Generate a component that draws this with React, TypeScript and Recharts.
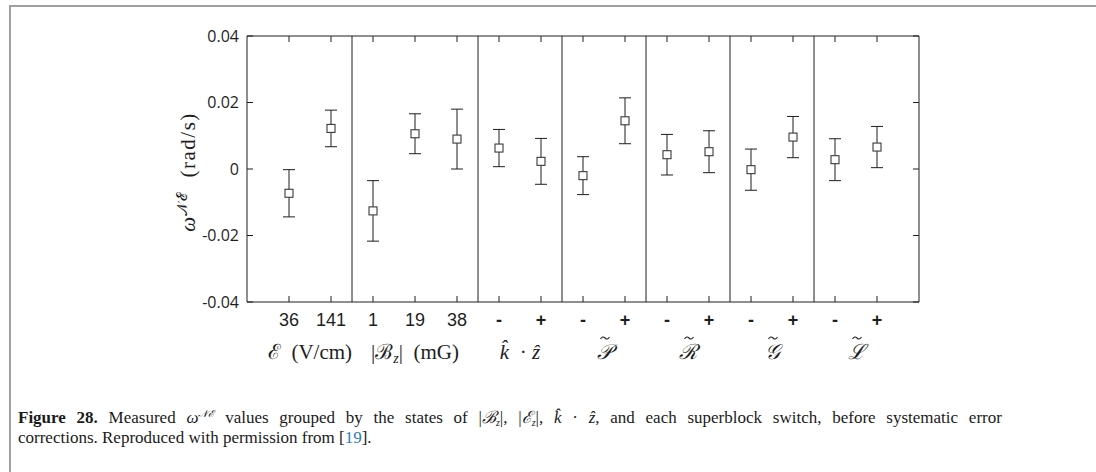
import React from "react";
import { ScatterChart, Scatter, XAxis, YAxis, ErrorBar, ReferenceLine } from "recharts";

// one entry per measured state, left to right
const categoryLabels = ["36", "141", "1", "19", "38", "-", "+", "-", "+", "-", "+", "-", "+", "-", "+"];
const omegaValues = [
  -0.0073, 0.0122, -0.0126, 0.0106, 0.009, 0.0063, 0.0023, -0.002, 0.0145, 0.0043, 0.0052, -0.0002, 0.0096,
  0.0028, 0.0066,
];
const omegaErrors = [
  0.0071, 0.0055, 0.0091, 0.006, 0.009, 0.0056, 0.0069, 0.0057, 0.0069, 0.0061, 0.0063, 0.0062, 0.0062, 0.0063,
  0.0062,
];

// switch groups: "*x*" italic, "_z" italic subscript, "~X" letter with tilde
const groupLabels = ["ℰ (V/cm)", "|ℬ_z| (mG)", "*k̂* · *ẑ*", "~𝒫", "~ℛ", "~𝒢", "~ℒ"];
const groupSizes = [2, 3, 2, 2, 2, 2, 2];

const yTicks = [-0.04, -0.02, 0, 0.02, 0.04];

const INK = "#1e1e1e";
const SANS = "'Liberation Sans', Arial, sans-serif";
const TICK_SANS = "'Open Sans', 'Noto Sans', sans-serif";
const SERIF = "'Liberation Serif', 'DejaVu Serif', serif";
const TICK_LEN = 6;

const positions = categoryLabels.map((_, i) => i + 1);
const data = positions.map((x, i) => ({ x, y: omegaValues[i], err: omegaErrors[i] }));

const groupCenters: number[] = [];
const separators: number[] = [];
let start = 1;
groupSizes.forEach((n, i) => {
  groupCenters.push(start + (n - 1) / 2);
  if (i < groupSizes.length - 1) separators.push(start + n - 0.5);
  start += n;
});

const xDomain = [0, categoryLabels.length + 1];
const yDomain = [-0.04, 0.04];

// ticks point into the plot, labels stay outside
function CategoryTick(props: any) {
  const { x, y, index } = props;
  const label = categoryLabels[index];
  const sign = label === "-" || label === "+";
  return (
    <g>
      <line x1={x} x2={x} y1={y} y2={y - TICK_LEN} stroke={INK} />
      <text x={x} y={y + 24} textAnchor="middle" fontFamily={SANS} fontSize={18} fontWeight={sign ? 700 : 400} fill={INK}>
        {label}
      </text>
    </g>
  );
}

function TopTick(props: any) {
  const { x, y } = props;
  return <line x1={x} x2={x} y1={y} y2={y + TICK_LEN} stroke={INK} />;
}

function LeftTick(props: any) {
  const { x, y, payload } = props;
  const v = payload.value as number;
  return (
    <g>
      <line x1={x + 8} x2={x + 8 + TICK_LEN} y1={y} y2={y} stroke={INK} />
      <text x={x} y={y} dy="0.36em" textAnchor="end" fontFamily={TICK_SANS} fontSize={16} fill={INK}>
        {v === 0 ? "0" : v.toFixed(2)}
      </text>
    </g>
  );
}

function RightTick(props: any) {
  const { x, y } = props;
  return <line x1={x} x2={x - TICK_LEN} y1={y} y2={y} stroke={INK} />;
}

function GroupTick(props: any) {
  const { x, y, index } = props;
  const label = groupLabels[index];
  const base = y + 27;
  if (label.startsWith("~")) {
    const tx = x + 1;
    const ty = base - 21;
    return (
      <g>
        <path
          d={`M ${tx - 4.5} ${ty + 1} c 1.5 -2.5 3 -2.5 4.5 -1 s 3 1.5 4.5 -1`}
          fill="none"
          stroke={INK}
          strokeWidth={1.1}
        />
        <text x={x} y={base} textAnchor="middle" fontFamily={SERIF} fontStyle="italic" fontSize={21} fill={INK}>
          {label.slice(1)}
        </text>
      </g>
    );
  }
  const parts = label.split(/(\*[^*]+\*|_\w)/).filter((p) => p !== "");
  let shifted = false;
  return (
    <text x={x} y={base} textAnchor="middle" fontFamily={SERIF} fontSize={21} fill={INK} xmlSpace="preserve">
      {parts.map((p, i) => {
        if (p.startsWith("_")) {
          shifted = true;
          return (
            <tspan key={i} dy={4} fontSize={14} fontStyle="italic">
              {p.slice(1)}
            </tspan>
          );
        }
        const dy = shifted ? -4 : 0;
        shifted = false;
        if (p.startsWith("*")) {
          return (
            <tspan key={i} dy={dy} fontStyle="italic">
              {p.slice(1, -1)}
            </tspan>
          );
        }
        return (
          <tspan key={i} dy={dy}>
            {p.replace(" ", "  ")}
          </tspan>
        );
      })}
    </text>
  );
}

function YLabel(props: any) {
  const { viewBox } = props;
  const cx = viewBox.x + 8;
  const cy = viewBox.y + viewBox.height / 2 + 3;
  return (
    <text
      x={cx}
      y={cy}
      transform={`rotate(-90 ${cx} ${cy})`}
      textAnchor="middle"
      fontFamily={SERIF}
      fontSize={21}
      letterSpacing={1.5}
      fill={INK}
    >
      <tspan fontStyle="italic">ω</tspan>
      <tspan dy={-8} fontSize={14}>
        𝒩ℰ
      </tspan>
      <tspan dy={8} dx={14}>
        (rad/s)
      </tspan>
    </text>
  );
}

function Square(props: any) {
  const { cx, cy } = props;
  return <rect x={cx - 4} y={cy - 4} width={8} height={8} fill="#fff" stroke="#3a3a3a" strokeWidth={1.1} />;
}

function NoShape() {
  return <g />;
}

function Caption() {
  return (
    <svg width={1096} height={120} style={{ position: "absolute", left: 0, top: 390 }}>
      <text x={18} y={33} fontFamily={SERIF} fontSize={17} fill="#1a1a1a" wordSpacing={6.5}>
        <tspan fontWeight={700}>Figure 28.</tspan>
        <tspan> Measured </tspan>
        <tspan fontStyle="italic">ω</tspan>
        <tspan dy={-6} fontSize={10} fontStyle="italic">
          𝒩ℰ
        </tspan>
        <tspan dy={6}> values grouped by the states of |</tspan>
        <tspan fontStyle="italic">ℬ</tspan>
        <tspan dy={3} fontSize={10} fontStyle="italic">
          z
        </tspan>
        <tspan dy={-3}>|, |</tspan>
        <tspan fontStyle="italic">ℰ</tspan>
        <tspan dy={3} fontSize={10} fontStyle="italic">
          z
        </tspan>
        <tspan dy={-3}>|, </tspan>
        <tspan fontStyle="italic">k̂</tspan>
        <tspan> · </tspan>
        <tspan fontStyle="italic">ẑ</tspan>
        <tspan>, and each superblock switch, before systematic error</tspan>
      </text>
      <text x={18} y={53} fontFamily={SERIF} fontSize={17} fill="#1a1a1a">
        <tspan>corrections. Reproduced with permission from [</tspan>
        <tspan fill="#2b7bbd">19</tspan>
        <tspan>].</tspan>
      </text>
    </svg>
  );
}

export default function App() {
  return (
    <div style={{ position: "absolute", left: 0, top: 0, width: 1096, height: 472, background: "#fff", overflow: "hidden" }}>
      <div
        style={{
          position: "absolute",
          left: 9,
          top: 5,
          width: 1100,
          height: 480,
          borderTop: "2px solid #a0a0a0",
          borderLeft: "2px solid #a0a0a0",
        }}
      />
      <ScatterChart width={1096} height={472} margin={{ top: 35, right: 176, left: 187, bottom: 96 }}>
        <XAxis
          xAxisId="cat"
          type="number"
          dataKey="x"
          domain={xDomain}
          ticks={positions}
          allowDataOverflow
          height={30}
          tickSize={0}
          tickMargin={0}
          tickLine={false}
          stroke={INK}
          tick={CategoryTick}
          interval={0}
        />
        <XAxis
          xAxisId="groups"
          type="number"
          dataKey="x"
          domain={xDomain}
          ticks={groupCenters}
          allowDataOverflow
          height={44}
          axisLine={false}
          tickLine={false}
          tickSize={0}
          tickMargin={0}
          tick={GroupTick}
          interval={0}
        />
        <XAxis
          xAxisId="top"
          orientation="top"
          type="number"
          dataKey="x"
          domain={xDomain}
          ticks={positions}
          allowDataOverflow
          height={1}
          tickSize={0}
          tickMargin={0}
          tickLine={false}
          stroke={INK}
          tick={TopTick}
          interval={0}
        />
        <YAxis
          yAxisId="left"
          type="number"
          dataKey="y"
          domain={yDomain}
          ticks={yTicks}
          allowDataOverflow
          width={60}
          tickSize={0}
          tickMargin={8}
          tickLine={false}
          stroke={INK}
          tick={LeftTick}
          interval={0}
          label={{ content: YLabel }}
        />
        <YAxis
          yAxisId="right"
          orientation="right"
          type="number"
          dataKey="y"
          domain={yDomain}
          ticks={yTicks}
          allowDataOverflow
          width={1}
          tickSize={0}
          tickMargin={0}
          tickLine={false}
          stroke={INK}
          tick={RightTick}
          interval={0}
        />
        {separators.map((s) => (
          <ReferenceLine key={s} x={s} xAxisId="cat" yAxisId="left" stroke={INK} strokeWidth={1} />
        ))}
        <Scatter data={data} xAxisId="top" yAxisId="right" shape={NoShape} isAnimationActive={false} />
        <Scatter data={data} xAxisId="groups" yAxisId="right" shape={NoShape} isAnimationActive={false} />
        <Scatter data={data} xAxisId="cat" yAxisId="left" shape={Square} isAnimationActive={false}>
          <ErrorBar dataKey="err" direction="y" width={6} stroke={INK} strokeWidth={1} isAnimationActive={false} />
        </Scatter>
      </ScatterChart>
      <Caption />
    </div>
  );
}
